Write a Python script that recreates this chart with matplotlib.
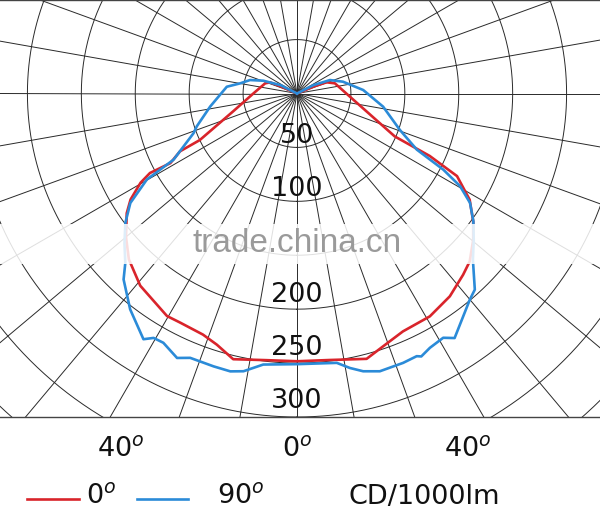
import numpy as np
import matplotlib.pyplot as plt
from matplotlib.lines import Line2D

# C0-C180 plane (red), angle from nadir in degrees, intensity in cd/1000lm
red_deg = [-180, -114, -112.5, -107.7, -90, -74.6, -64.4, -63.7, -61.2, -61.6, -60.3,
           -57.5, -54.9, -50, -45.4, -39.2, -30.3, -27, -21.3, -17.7, -13.5, -6.8,
           0, 7, 14.7, 18.8, 24, 30.8, 37, 42.5, 45.8, 50.3, 54, 58.4, 62.7, 64.8,
           66.3, 86.7, 105, 110.7, 112.6, 180]
red_cd = [0, 14, 27, 31, 40.5, 61, 100, 121, 134, 155, 167,
          183, 193, 207, 219, 230, 239, 238.5, 240, 244.5, 253.4, 249,
          248.3, 249, 254.4, 247.7, 241.5, 240.6, 235.5, 228, 223.4, 212.4, 202, 188, 167, 136,
          99, 49, 36.4, 29.4, 18, 0]

# C90-C270 plane (blue)
blue_deg = [-180, -117, -110.8, -106, -100.1, -95.5, -81.4, -71.9, -69, -61.8, -60.2,
            -56.7, -53, -49, -45.4, -43, -37.7, -32, -30.4, -28.2, -24.4, -22, -17,
            -13.5, -10.9, -7.1, 0, 8.4, 10.9, 13.4, 16.6, 21.5, 24.5, 25.3, 27.6,
            30.9, 32.8, 40, 42.2, 46.6, 50.3, 54.1, 57.7, 60.4, 62.5, 64.9, 70.5,
            81.3, 93, 104.4, 112.2, 117, 180]
blue_cd = [0, 17, 33.4, 45.3, 53.6, 65.4, 81.5, 97.7, 102.8, 129.9, 160.4,
           184.9, 199.3, 212, 223.6, 235.8, 253, 268.7, 262.8, 262.3, 269.3, 264.4, 264.6,
           265, 262.3, 253.3, 251, 252.5, 259.2, 264.8, 268.8, 268.5, 267.7, 269.7, 266.1,
           264, 269.8, 249.4, 245.5, 224.5, 213, 201.9, 189.8, 173.9, 153, 122.7, 101.2,
           80.8, 61.5, 44, 33, 17, 0]

ring_cd = [50, 100, 150, 200, 250, 300, 350, 400, 450]
ring_labels = [50, 100, 200, 250, 300]
spoke_deg = np.arange(0, 360, 10)

RED = '#d9242b'
BLUE = '#2b8bd8'
GRID = '#2a2a2a'


def to_xy(deg, cd):
    t = np.radians(np.asarray(deg, dtype=float))
    r = np.asarray(cd, dtype=float)
    return r * np.sin(t), -r * np.cos(t)


fig = plt.figure(figsize=(6, 5.09), dpi=100)
ax = fig.add_axes([0, 92 / 509, 1, 417 / 509])
px = 323.5 / 300  # pixels per cd
ax.set_xlim(-297 / px, 303 / px)
ax.set_ylim(-300, 93.5 / px)
ax.set_xticks([])
ax.set_yticks([])
for side in ['left', 'right']:
    ax.spines[side].set_visible(False)
for side in ['top', 'bottom']:
    ax.spines[side].set_color('#444444')
    ax.spines[side].set_linewidth(1.0)

# grid
for a in spoke_deg:
    x, y = to_xy([a, a], [0, 700])
    ax.plot(x, y, color=GRID, lw=0.7, zorder=1)
theta = np.linspace(0, 360, 721)
for r in ring_cd:
    x, y = to_xy(theta, np.full_like(theta, r))
    ax.plot(x, y, color=GRID, lw=0.7, zorder=1)

# curves
x, y = to_xy(red_deg, red_cd)
ax.plot(x, y, color=RED, lw=1.9, zorder=3)
x, y = to_xy(blue_deg, blue_cd)
ax.plot(x, y, color=BLUE, lw=1.9, zorder=4)

for r in ring_labels:
    ax.text(0, -(r - 3 - 0.017 * r), str(r), ha='center', va='baseline',
            fontsize=19.5, color='#111111', zorder=5)

# watermark band
ax.axhspan(-(264 - 93.5) / px, -(224 - 93.5) / px, color='white', alpha=0.85, lw=0, zorder=6)
ax.text(0, -(243 - 93.5) / px, 'trade.china.cn', ha='center', va='center',
        fontsize=24, family='Liberation Sans', color='#9a9a9a', zorder=7)

# angle labels
for lab, xpx in zip(['40', '0', '40'], [97, 282, 444]):
    fig.text(xpx / 600, 1 - 456.5 / 509, lab + r'$^{o}$', ha='left', va='baseline',
             fontsize=19.5, color='#111111')

# legend
fig.add_artist(Line2D([27.5 / 600, 78.5 / 600], [1 - 499 / 509] * 2, color=RED, lw=1.9))
fig.add_artist(Line2D([136.5 / 600, 187.5 / 600], [1 - 499 / 509] * 2, color=BLUE, lw=1.9))
fig.text(86 / 600, 1 - 504 / 509, r'0$^{o}$', ha='left', va='baseline', fontsize=19.5, color='#111111')
fig.text(217 / 600, 1 - 504 / 509, r'90$^{o}$', ha='left', va='baseline', fontsize=19.5, color='#111111')
fig.text(349 / 600, 1 - 504 / 509, 'CD/1000lm', ha='left', va='baseline', fontsize=19.5, color='#111111')

fig.savefig('out.png', dpi=100)
